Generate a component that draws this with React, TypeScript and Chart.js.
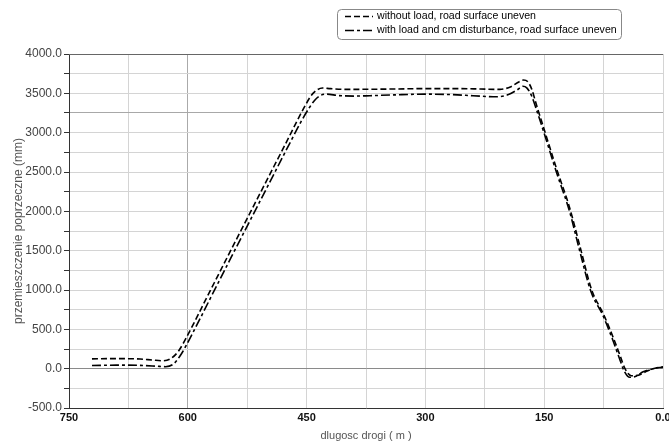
import React, { useEffect, useRef } from "react";
import { Chart, registerables } from "chart.js";

Chart.register(...registerables);

// Series 1: without load, road surface uneven
const distNoLoad = [721, 690, 660, 645, 632, 622, 612, 600, 575, 550, 525, 500, 475, 462, 452, 445, 438, 430, 420, 400, 370, 340, 300, 260, 230, 206, 192, 182, 176, 171, 166, 160, 150, 134, 118, 105, 90, 75, 63, 54, 48, 40, 30, 20, 10, 0];
const dispNoLoad = [125, 128, 122, 110, 100, 125, 220, 430, 925, 1420, 1910, 2400, 2890, 3150, 3340, 3460, 3535, 3568, 3560, 3550, 3552, 3555, 3560, 3560, 3555, 3550, 3585, 3645, 3669, 3650, 3560, 3360, 3040, 2530, 2050, 1560, 1000, 690, 400, 160, 0, -90, -80, -30, 5, 25];

// Series 2: with load and cm disturbance, road surface uneven
const distLoad = [721, 690, 660, 640, 628, 618, 608, 595, 570, 545, 520, 495, 470, 457, 447, 440, 433, 425, 410, 390, 370, 340, 300, 270, 240, 210, 195, 184, 177, 172, 166, 160, 150, 134, 118, 106, 91, 76, 64, 55, 49, 42, 35, 25, 12, 0];
const dispLoad = [40, 45, 42, 32, 25, 60, 190, 430, 925, 1420, 1910, 2400, 2890, 3140, 3310, 3410, 3470, 3490, 3472, 3465, 3470, 3480, 3490, 3485, 3470, 3456, 3485, 3545, 3590, 3570, 3470, 3300, 2990, 2480, 2000, 1530, 980, 680, 380, 130, -30, -110, -100, -40, 0, 20];

const legendLabels = [
  "without load, road surface uneven",
  "with load and cm disturbance, road surface uneven",
];

const xTitle = "dlugosc drogi ( m )";
const yTitle = "przemieszczenie poprzeczne (mm)";

const legendPlugin = {
  id: "customLegend",
  afterDraw(chart: any) {
    const ctx = chart.ctx;
    const { top, left, right } = chart.chartArea;
    ctx.save();
    // top border
    ctx.strokeStyle = "#666";
    ctx.lineWidth = 1;
    ctx.beginPath();
    ctx.moveTo(left, Math.round(top) + 0.5);
    ctx.lineTo(right, Math.round(top) + 0.5);
    ctx.stroke();
    // legend box
    const bx = 337.5, by = 9.5, bw = 284, bh = 30, r = 4;
    ctx.beginPath();
    ctx.moveTo(bx + r, by);
    ctx.lineTo(bx + bw - r, by);
    ctx.quadraticCurveTo(bx + bw, by, bx + bw, by + r);
    ctx.lineTo(bx + bw, by + bh - r);
    ctx.quadraticCurveTo(bx + bw, by + bh, bx + bw - r, by + bh);
    ctx.lineTo(bx + r, by + bh);
    ctx.quadraticCurveTo(bx, by + bh, bx, by + bh - r);
    ctx.lineTo(bx, by + r);
    ctx.quadraticCurveTo(bx, by, bx + r, by);
    ctx.closePath();
    ctx.fillStyle = "#fff";
    ctx.fill();
    ctx.strokeStyle = "#888";
    ctx.stroke();
    const dashes = [[6, 3], [9, 3, 3, 3]];
    const ys = [16.5, 30.5];
    ctx.font = "10.6px Arial, 'Liberation Sans', sans-serif";
    ctx.textBaseline = "middle";
    ctx.textAlign = "left";
    for (let i = 0; i < 2; i++) {
      ctx.setLineDash(dashes[i]);
      ctx.strokeStyle = "#000";
      ctx.lineWidth = 1.5;
      ctx.beginPath();
      ctx.moveTo(345, ys[i]);
      ctx.lineTo(373, ys[i]);
      ctx.stroke();
      ctx.setLineDash([]);
      ctx.fillStyle = "#000";
      ctx.fillText(legendLabels[i], 377, ys[i]);
    }
    ctx.restore();
  },
};

export default function App() {
  const ref = useRef<HTMLCanvasElement>(null);
  useEffect(() => {
    if (!ref.current) return;
    const chart = new Chart(ref.current, {
      type: "line",
      data: {
        datasets: [
          {
            label: legendLabels[0],
            data: distNoLoad.map((x, i) => ({ x, y: dispNoLoad[i] })),
            borderColor: "#000",
            borderWidth: 1.6,
            borderDash: [6, 3],
            pointRadius: 0,
            fill: false,
            cubicInterpolationMode: "monotone",
          },
          {
            label: legendLabels[1],
            data: distLoad.map((x, i) => ({ x, y: dispLoad[i] })),
            borderColor: "#000",
            borderWidth: 1.6,
            borderDash: [9, 3, 3, 3],
            pointRadius: 0,
            fill: false,
            cubicInterpolationMode: "monotone",
          },
        ],
      },
      options: {
        animation: false,
        responsive: true,
        maintainAspectRatio: false,
        layout: { padding: { top: 54, right: 6, left: 0, bottom: 0 } },
        plugins: { legend: { display: false }, tooltip: { enabled: false } },
        scales: {
          x: {
            type: "linear",
            reverse: true,
            min: 0,
            max: 750,
            afterFit(scale: any) {
              scale.height = 35;
              scale.paddingLeft = 0;
              scale.paddingRight = 0;
            },
            ticks: {
              stepSize: 75,
              autoSkip: false,
              maxRotation: 0,
              padding: 3,
              color: "#111",
              font: { family: "Arial, 'Liberation Sans', sans-serif", size: 11, weight: "bold" },
              callback: (v: any) => (v % 150 === 0 ? (v === 0 ? "0.0" : String(v)) : ""),
            },
            grid: {
              drawTicks: false,
              color: (c: any) => (c.tick && c.tick.value === 600 ? "#aaa" : "#d4d4d4"),
            },
            border: { color: "#333", width: 1 },
            title: {
              display: true,
              text: xTitle,
              color: "#555",
              padding: { top: 0, bottom: 0 },
              font: { family: "Arial, 'Liberation Sans', sans-serif", size: 11 },
            },
          },
          y: {
            min: -500,
            max: 4000,
            afterFit(scale: any) {
              scale.width = 69;
              scale.paddingTop = 0;
              scale.paddingBottom = 0;
            },
            ticks: {
              stepSize: 250,
              autoSkip: false,
              padding: 2,
              color: "#444",
              font: { family: "Arial, 'Liberation Sans', sans-serif", size: 12 },
              callback: (v: any) => (v % 500 === 0 ? Number(v).toFixed(1) : ""),
            },
            grid: {
              tickLength: 5,
              tickColor: "#333",
              color: (c: any) => {
                const v = c.tick && c.tick.value;
                if (v === 0) return "#8a8a8a";
                if (v === 3250) return "#a8a8a8";
                return "#d4d4d4";
              },
            },
            border: { color: "#333", width: 1 },
            title: {
              display: true,
              text: yTitle,
              color: "#555",
              padding: { top: 11, bottom: 0 },
              font: { family: "Arial, 'Liberation Sans', sans-serif", size: 12 },
            },
          },
        },
      },
      plugins: [legendPlugin],
    });
    return () => chart.destroy();
  }, []);
  return (
    <div style={{ position: "fixed", left: 0, top: 0, width: 669, height: 443, background: "#fff" }}>
      <canvas ref={ref} />
    </div>
  );
}
